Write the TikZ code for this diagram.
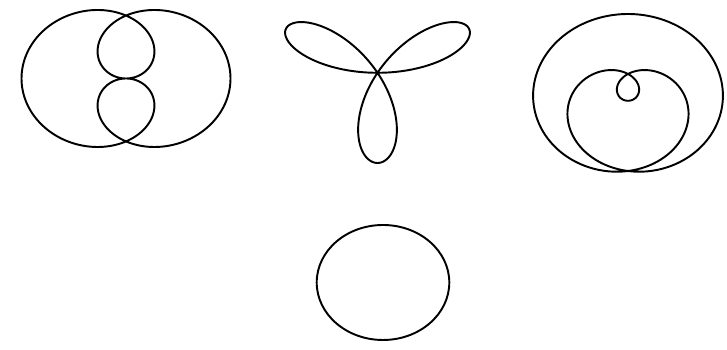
\documentclass[tikz,border=0pt]{standalone}
\usepackage{tikz}
\usetikzlibrary{calc}

\begin{document}
\begin{tikzpicture}[x=0.02cm, y=0.02cm, curve/.style={draw, line width=1.1pt, line join=round}]

    \useasboundingbox (0,0) rectangle (727,350);

    % Centres
    \coordinate (halfsine) at (126,271.5);
    \coordinate (rose) at (377.5,277.2);
    \coordinate (fifthsine) at (628,249.2);
    \coordinate (circ) at (383,67.5);

    % r = sin(t/2)
    \begin{scope}[shift={(halfsine)}, xscale=104.5, yscale=89]
        \draw[curve] plot[domain=0:720, samples=400] (\x:{sin(\x/2)});
    \end{scope}

    % r = sin(3t)
    \begin{scope}[shift={(rose)}, xscale=105, yscale=90.2]
        \draw[curve] plot[domain=0:180, samples=300] (\x:{sin(3*\x)});
    \end{scope}

    % r = sin(t/5)
    \begin{scope}[shift={(fifthsine)}, xscale=99.6, yscale=86.8]
        \draw[curve] plot[domain=0:900, samples=500] (\x:{sin(\x/5)});
    \end{scope}

    % Cercle
    \draw[curve] (circ) ellipse [x radius=66.3, y radius=57.5];

\end{tikzpicture}
\end{document}
